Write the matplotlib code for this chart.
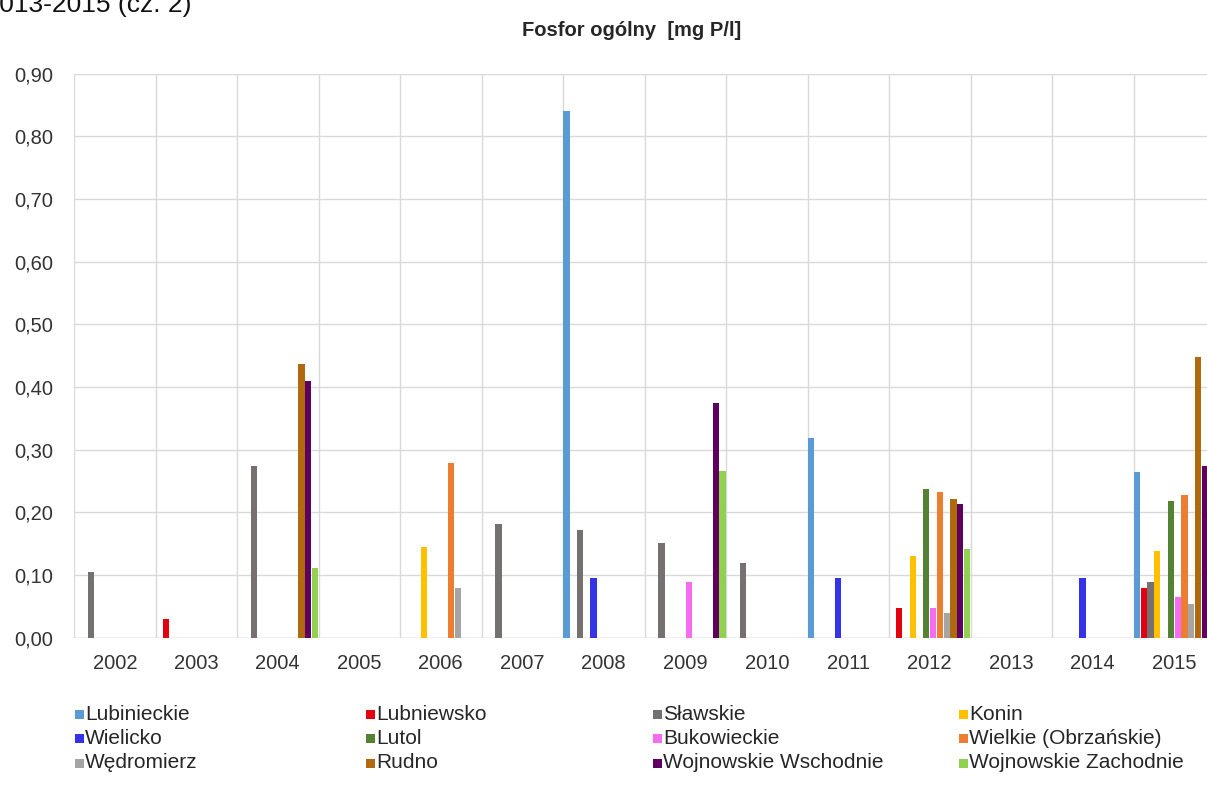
import numpy as np
import matplotlib
matplotlib.use("Agg")
import matplotlib.pyplot as plt
from matplotlib.patches import Rectangle

plt.rcParams['font.family'] = ['Liberation Sans', 'DejaVu Sans']

years = ['2002', '2003', '2004', '2005', '2006', '2007', '2008',
         '2009', '2010', '2011', '2012', '2013', '2014', '2015']

lakes = ['Lubinieckie', 'Lubniewsko', 'Sławskie', 'Konin',
         'Wielicko', 'Lutol', 'Bukowieckie', 'Wielkie (Obrzańskie)',
         'Wędromierz', 'Rudno', 'Wojnowskie Wschodnie', 'Wojnowskie Zachodnie']

colors = ['#5b9bd5', '#e3000f', '#767171', '#ffc000',
          '#3333e8', '#548235', '#f56cf0', '#ed7d31',
          '#a5a5a5', '#b0690f', '#5e0060', '#92d050']

nan = np.nan
# total phosphorus per lake and year (NaN = no measurement)
lubinieckie = [nan, nan, nan, nan, nan, nan, 0.84, nan, nan, 0.318, nan, nan, nan, 0.265]
lubniewsko  = [nan, 0.03, nan, nan, nan, nan, nan, nan, nan, nan, 0.048, nan, nan, 0.079]
slawskie    = [0.105, nan, 0.274, nan, nan, 0.182, 0.172, 0.151, 0.12, nan, nan, nan, nan, 0.089]
konin       = [nan, nan, nan, nan, 0.145, nan, nan, nan, nan, nan, 0.131, nan, nan, 0.138]
wielicko    = [nan, nan, nan, nan, nan, nan, 0.095, nan, nan, 0.095, nan, nan, 0.096, nan]
lutol       = [nan, nan, nan, nan, nan, nan, nan, nan, nan, nan, 0.237, nan, nan, 0.218]
bukowieckie = [nan, nan, nan, nan, nan, nan, nan, 0.089, nan, nan, 0.048, nan, nan, 0.065]
wielkie     = [nan, nan, nan, nan, 0.278, nan, nan, nan, nan, nan, 0.232, nan, nan, 0.228]
wedromierz  = [nan, nan, nan, nan, 0.08, nan, nan, nan, nan, nan, 0.039, nan, nan, 0.054]
rudno       = [nan, nan, 0.436, nan, nan, nan, nan, nan, nan, nan, 0.222, nan, nan, 0.448]
woj_wsch    = [nan, nan, 0.409, nan, nan, nan, nan, 0.374, nan, nan, 0.214, nan, nan, 0.274]
woj_zach    = [nan, nan, 0.112, nan, nan, nan, nan, 0.266, nan, nan, 0.141, nan, nan, nan]

series = [lubinieckie, lubniewsko, slawskie, konin, wielicko, lutol,
          bukowieckie, wielkie, wedromierz, rudno, woj_wsch, woj_zach]

W, H = 1207, 811
fig = plt.figure(figsize=(W / 100, H / 100), dpi=100)

# plot area (pixel coordinates converted to figure fractions); it runs past the right edge
left_px, right_px, top_px, bottom_px = 74, 1215, 73.7, 637.7
ax = fig.add_axes([left_px / W, 1 - bottom_px / H,
                   (right_px - left_px) / W, (bottom_px - top_px) / H])

n = len(series)
x = np.arange(len(years))
slot = 1.0 / n
bw = slot * 0.92
for i, (vals, c) in enumerate(zip(series, colors)):
    ax.bar(x - 0.5 + slot * (i + 0.5), vals, width=bw, color=c, zorder=3,
           label=lakes[i])

ax.set_xlim(-0.5, len(years) - 0.5)
ax.set_ylim(0, 0.9)
ax.set_yticks(np.arange(0, 0.91, 0.1))
ax.set_yticklabels([f"{v:.2f}".replace('.', ',') for v in np.arange(0, 0.91, 0.1)])
ax.set_xticks(x)
ax.set_xticklabels(years)

# vertical gridlines between year groups
for b in np.arange(-0.5, len(years), 1.0):
    ax.axvline(b, color='#d9d9d9', lw=1.0, zorder=1)
ax.yaxis.grid(True, color='#d9d9d9', lw=1.0, zorder=1)
for s in ax.spines.values():
    s.set_visible(False)
ax.axhline(0, color='#d0d0d0', lw=1.0, zorder=2)
ax.tick_params(axis='both', length=0, labelsize=14.5, colors='#333333')
ax.tick_params(axis='y', pad=15)
ax.tick_params(axis='x', pad=12)

fig.text(632 / W, 1 - 31 / H, 'Fosfor ogólny  [mg P/l]', ha='center', va='center',
         fontsize=14.5, fontweight='bold', color='#262626')
fig.text(192 / W, 1 - 12 / H, 'w latach 2013-2015 (cz. 2)', ha='right', va='baseline',
         fontsize=19, color='#111111')

# legend: 3 rows x 4 columns
col_px = [75, 366, 653, 959]
row_px = [714, 738, 763]
sq = 9
for i, (name, c) in enumerate(zip(lakes, colors)):
    r, k = divmod(i, 4)
    cx, cy = col_px[k], row_px[r]
    fig.add_artist(Rectangle((cx / W, 1 - (cy + sq / 2) / H), sq / W, sq / H,
                             transform=fig.transFigure, color=c, lw=0))
    fig.text((cx + sq + 1) / W, 1 - cy / H, name, ha='left', va='center',
             fontsize=15, color='#262626')

fig.savefig('out.png', dpi=100)
